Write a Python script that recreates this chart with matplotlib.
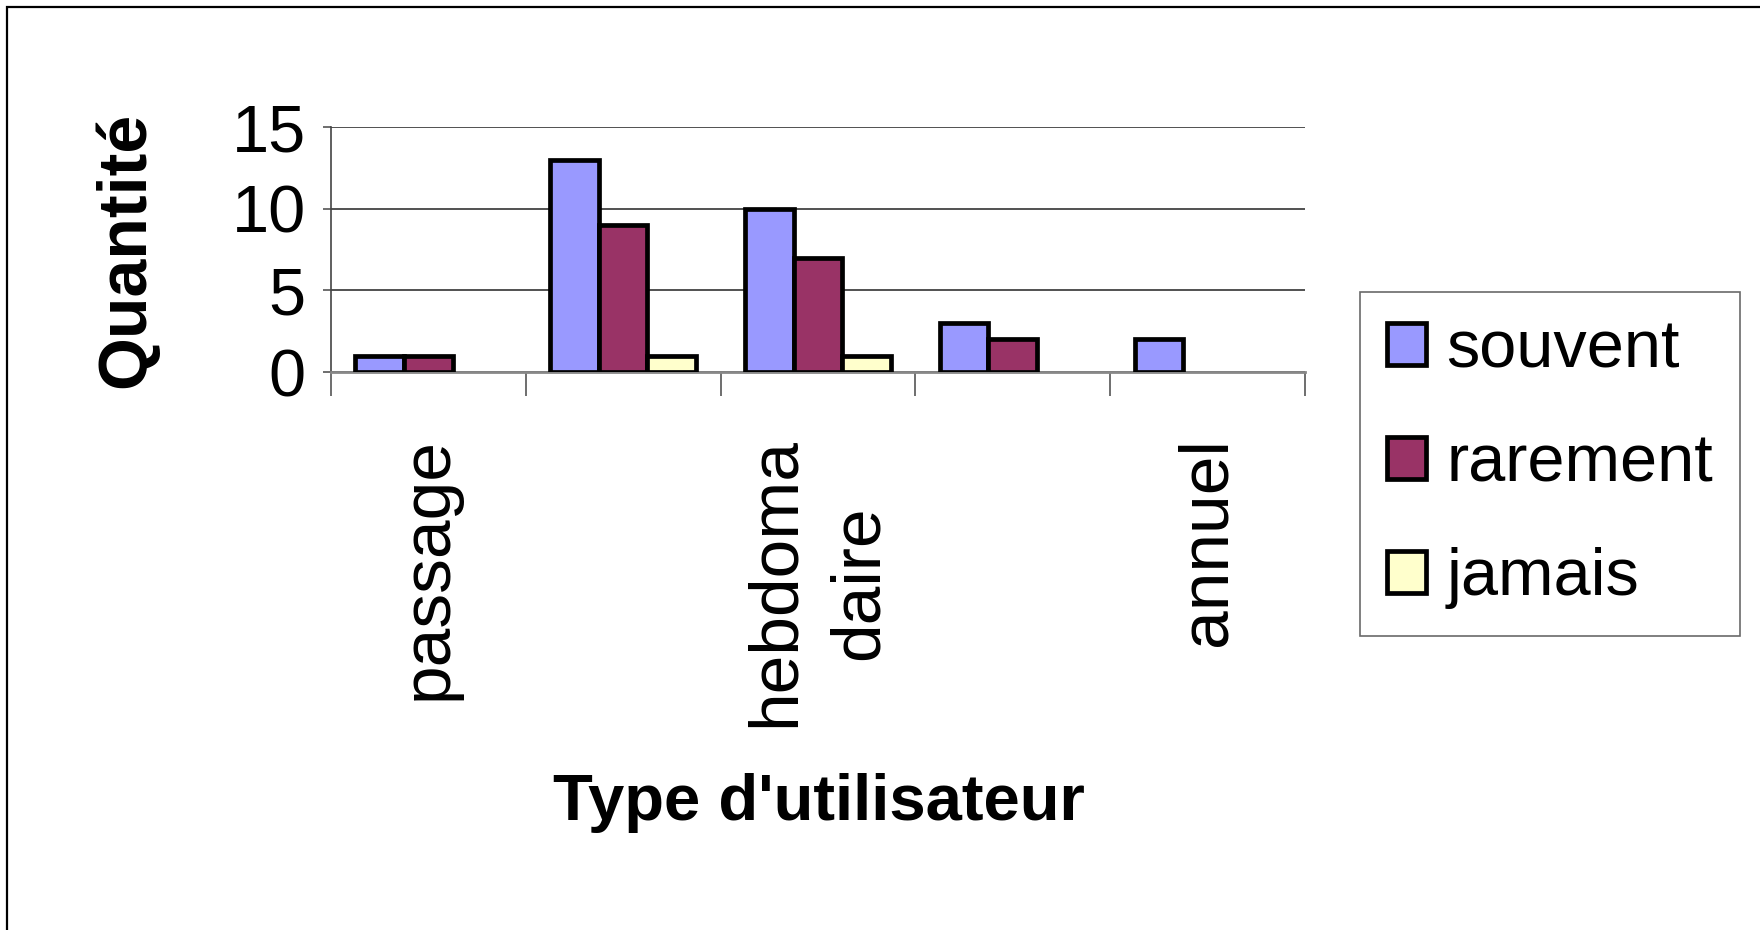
import numpy as np
import matplotlib
matplotlib.use('Agg')
import matplotlib.pyplot as plt
from matplotlib.patches import Rectangle

# data
categories = ['passage', '', 'hebdoma\ndaire', '', 'annuel']
souvent = [1, 13, 10, 3, 2]
rarement = [1, 9, 7, 2, 0]
jamais = [0, 1, 1, 0, 0]
series_names = ['souvent', 'rarement', 'jamais']
colors = ['#9999FF', '#993366', '#FFFFCC']

plt.rcParams['font.family'] = ['Liberation Sans', 'DejaVu Sans']

fig = plt.figure(figsize=(17.6, 9.3), dpi=100)
# outer chart border (only top and left edges fall inside the picture)
fig.add_artist(Rectangle((7 / 1760, -0.05), 1.1, (930 - 7) / 930 + 0.05,
                         transform=fig.transFigure, fill=False,
                         edgecolor='black', linewidth=1.6))
ax = fig.add_axes([0.188, 0.6, 0.5535, 0.2634])

x = np.arange(len(categories)) + 0.5
w = 0.25
for i, (vals, name, c) in enumerate(zip([souvent, rarement, jamais], series_names, colors)):
    vals = np.array(vals, dtype=float)
    mask = vals > 0
    ax.bar(x[mask] + (i - 1) * w, vals[mask], width=w, color=c, edgecolor='black',
           linewidth=3.4, label=name, zorder=3)

ax.set_xlim(0, len(categories))
ax.set_ylim(0, 15)
ax.set_yticks([0, 5, 10, 15])
ax.yaxis.grid(True, color='#333333', linewidth=1.2, zorder=0)
ax.tick_params(axis='y', labelsize=48, length=6, width=1.2, pad=12, color='#555555')

# group boundaries as major ticks, labels on minor ticks at group centres
ax.set_xticks(np.arange(len(categories) + 1))
ax.set_xticklabels([''] * (len(categories) + 1))
ax.tick_params(axis='x', which='major', length=17, width=1.2, color='#555555')
ax.set_xticks(x, minor=True)
ax.set_xticklabels(categories, minor=True, rotation=90, fontsize=50,
                   va='top', ha='center', multialignment='center', linespacing=1.4)
ax.tick_params(axis='x', which='minor', length=0, pad=47)

for s in ['top', 'right']:
    ax.spines[s].set_visible(False)
ax.spines['left'].set_color('#444444')
ax.spines['left'].set_linewidth(1.2)
ax.spines['bottom'].set_color('#888888')
ax.spines['bottom'].set_linewidth(2)

ax.set_ylabel('Quantité', fontsize=49, fontweight='bold', va='center')
ax.yaxis.set_label_coords(-0.21, 0.5)
ax.set_xlabel("Type d'utilisateur", fontsize=47, fontweight='bold', va='center')
ax.xaxis.set_label_coords(0.501, -1.759)

leg = ax.legend(loc='center left', bbox_to_anchor=(0.773, 0.501),
                bbox_transform=fig.transFigure, fontsize=48, frameon=True,
                fancybox=False, edgecolor='#444444', handlelength=0.59,
                handleheight=0.59, handletextpad=0.3, labelspacing=0.78,
                borderpad=0.4, borderaxespad=0)
leg.get_frame().set_linewidth(1.2)
for h in leg.legend_handles:
    h.set_linewidth(3.4)

fig.savefig('out.png', dpi=100)
